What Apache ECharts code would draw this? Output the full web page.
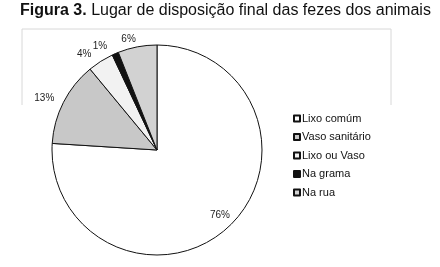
<!DOCTYPE html>
<html>
<head>
<meta charset="utf-8">
<script src="https://cdn.jsdelivr.net/npm/echarts@6/dist/echarts.min.js"></script>
<style>html,body{margin:0;padding:0;background:#fff}#c{width:440px;height:267px}</style>
</head>
<body>
<div id="c"></div>
<script>
const categories = ["Lixo comúm", "Vaso sanitário", "Lixo ou Vaso", "Na grama", "Na rua"];
const values = [76, 13, 4, 1, 6];
const colors = ["#ffffff", "#c8c8c8", "#f2f2f2", "#111111", "#d2d2d2"];

const chart = echarts.init(document.getElementById('c'), null, {renderer: 'canvas'});
const F = '"Liberation Sans", Arial, sans-serif';
chart.setOption({
  animation: false,
  title: {
    text: '{b|Figura 3.} Lugar de disposição final das fezes dos animais',
    left: 15, top: -2,
    textStyle: {
      fontFamily: F, fontSize: 16, fontWeight: 'normal', color: '#111',
      rich: { b: { fontFamily: F, fontSize: 16, fontWeight: 'bold', color: '#111' } }
    }
  },
  graphic: [{
    type: 'polyline',
    shape: { points: [[22, 105], [22, 29], [391, 29], [391, 105]] },
    style: { stroke: '#d8d8d8', lineWidth: 1, fill: null },
    silent: true, z: -1
  }],
  legend: {
    orient: 'vertical',
    left: 288, top: 108,
    itemWidth: 6, itemHeight: 6, itemGap: 7.5,
    icon: 'rect',
    textStyle: { fontFamily: F, fontSize: 11, color: '#111', padding: [0, 0, 0, -3] },
    data: categories
  },
  series: [{
    type: 'pie',
    center: [157, 150],
    radius: [0, 105],
    startAngle: 90,
    clockwise: true,
    avoidLabelOverlap: false,
    itemStyle: { borderColor: '#111', borderWidth: 1 },
    label: {
      show: true, position: 'outside', formatter: '{d}%',
      fontFamily: F, fontSize: 10, color: '#222'
    },
    labelLine: { show: false, length: 8, length2: 0 },
    labelLayout: function (p) {
      if (p.dataIndex === 0) return { dx: 25, dy: 25 };
      if (p.dataIndex === 1) return { dx: 3 };
      if (p.dataIndex === 4) return { dx: 5 };
    },
    emphasis: { disabled: true },
    data: categories.map((c, i) => ({
      name: c, value: values[i],
      itemStyle: { color: colors[i] },
      label: i === 0 ? { position: 'inside' } : undefined
    }))
  }]
});
</script>
</body>
</html>
